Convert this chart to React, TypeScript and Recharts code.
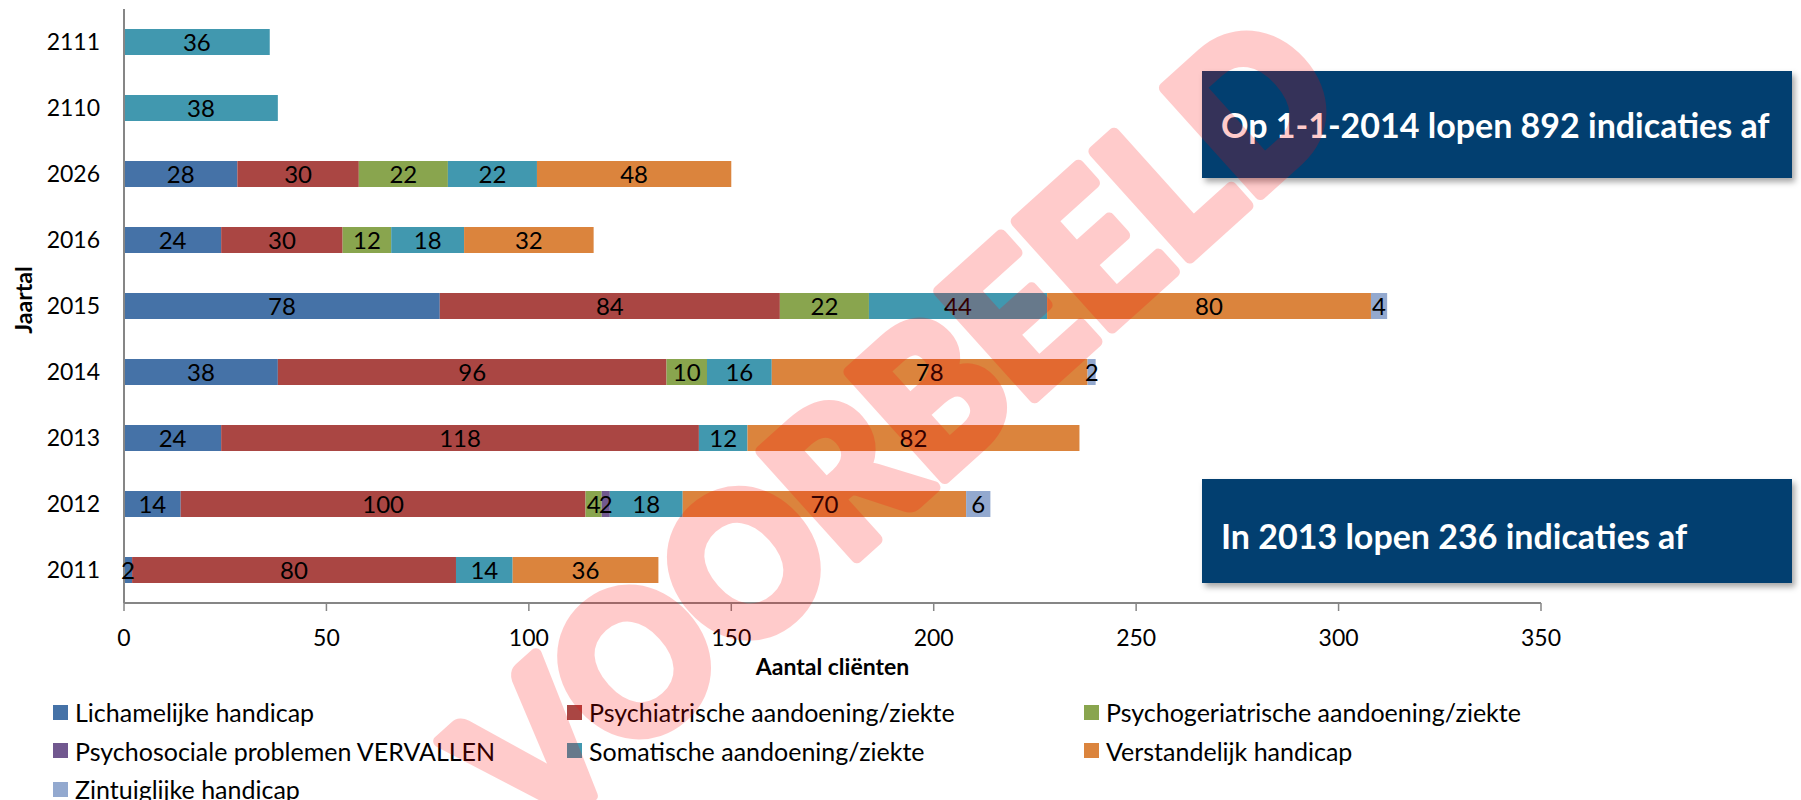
import React from 'react';
import { BarChart, Bar, XAxis, YAxis, LabelList, Label } from 'recharts';

// ---- data ----
const years = ['2111', '2110', '2026', '2016', '2015', '2014', '2013', '2012', '2011'];
const lichamelijke = [null, null, 28, 24, 78, 38, 24, 14, 2];
const psychiatrische = [null, null, 30, 30, 84, 96, 118, 100, 80];
const psychogeriatrische = [null, null, 22, 12, 22, 10, null, 4, null];
const psychosociale = [null, null, null, null, null, null, null, 2, null];
const somatische = [36, 38, 22, 18, 44, 16, 12, 18, 14];
const verstandelijk = [null, null, 48, 32, 80, 78, 82, 70, 36];
const zintuiglijke = [null, null, null, null, 4, 2, null, 6, null];
const xTicks = [0, 50, 100, 150, 200, 250, 300, 350];
const boundaryTicks = [0, 1, 2, 3, 4, 5, 6, 7, 8, 9];
const note1 = 'Op 1-1-2014 lopen 892 indicaties af';
const note2 = 'In 2013 lopen 236 indicaties af';
const watermark = 'VOORBEELD';

const series = [
  { key: 'lich', name: 'Lichamelijke handicap', values: lichamelijke, color: '#4572A7' },
  { key: 'psych', name: 'Psychiatrische aandoening/ziekte', values: psychiatrische, color: '#AA4643' },
  { key: 'pger', name: 'Psychogeriatrische aandoening/ziekte', values: psychogeriatrische, color: '#89A54E' },
  { key: 'psoc', name: 'Psychosociale problemen VERVALLEN', values: psychosociale, color: '#71588F' },
  { key: 'som', name: 'Somatische aandoening/ziekte', values: somatische, color: '#4198AF' },
  { key: 'verst', name: 'Verstandelijk handicap', values: verstandelijk, color: '#DB843D' },
  { key: 'zint', name: 'Zintuiglijke handicap', values: zintuiglijke, color: '#93A9CF' },
];

const data = years.map((y, i) => {
  const row: any = { year: y };
  series.forEach((s) => {
    row[s.key] = s.values[i];
  });
  return row;
});

const FONT = 'Lato, "Open Sans", sans-serif';
const AXIS = '#868686';

export default function App() {
  return (
    <div style={{ position: 'absolute', left: 0, top: 0, width: 1801, height: 800, background: '#fff', fontFamily: FONT, overflow: 'hidden' }}>
      <BarChart
        width={1801}
        height={800}
        data={data}
        layout="vertical"
        margin={{ top: 9, right: 260, bottom: 157, left: 0 }}
        barSize={26}
      >
        <XAxis
          type="number"
          domain={[0, 350]}
          ticks={xTicks}
          interval={0}
          height={40}
          tickSize={8}
          tickMargin={19}
          axisLine={{ stroke: AXIS, strokeWidth: 2 }}
          tickLine={{ stroke: AXIS, strokeWidth: 1.5 }}
          tick={{ fill: '#000', fontSize: 23, fontFamily: FONT }}
        >
          <Label
            content={(p: any) => {
              const vb = p.viewBox || { x: 124, width: 1417 };
              return (
                <text x={vb.x + vb.width / 2} y={666} textAnchor="middle" dominantBaseline="central" fontFamily={FONT} fontWeight={700} fontSize={23} fill="#000">
                  Aantal cliënten
                </text>
              );
            }}
          />
        </XAxis>
        <YAxis
          type="category"
          dataKey="year"
          width={124}
          tickSize={8}
          tickMargin={16}
          tickLine={false}
          axisLine={{ stroke: AXIS, strokeWidth: 2 }}
          tick={{ fill: '#000', fontSize: 23, fontFamily: FONT }}
        >
          <Label
            content={(p: any) => {
              const vb = p.viewBox || { y: 9, height: 594 };
              const cy = vb.y + vb.height / 2 - 6;
              return (
                <text x={23} y={cy} transform={`rotate(-90 23 ${cy})`} textAnchor="middle" dominantBaseline="central" fontFamily={FONT} fontWeight={700} fontSize={23} fill="#000">
                  Jaartal
                </text>
              );
            }}
          />
        </YAxis>
        <YAxis
          yAxisId="bounds"
          type="number"
          orientation="left"
          domain={[0, 9]}
          ticks={boundaryTicks}
          width={0}
          tickSize={8}
          axisLine={false}
          tick={false}
          tickLine={{ stroke: AXIS, strokeWidth: 1.5 }}
        />
        {series.map((s) => (
          <Bar key={s.key} dataKey={s.key} name={s.name} stackId="a" fill={s.color} isAnimationActive={false}>
            <LabelList dataKey={s.key} position="center" fill="#000" fontSize={24} fontFamily={FONT} />
          </Bar>
        ))}
      </BarChart>

      {/* legend */}
      <div style={{ position: 'absolute', left: 53, top: 693, width: 1600, display: 'grid', gridTemplateColumns: '514px 517px 540px', rowGap: 0 }}>
        {series.map((s) => (
          <div key={s.key} style={{ display: 'flex', alignItems: 'center', height: 38.5, fontSize: 25, color: '#000', whiteSpace: 'nowrap' }}>
            <span style={{ display: 'inline-block', width: 15, height: 15, background: s.color, marginRight: 7, flex: '0 0 auto' }} />
            <span>{s.name}</span>
          </div>
        ))}
      </div>

      {/* annotation boxes */}
      <div style={{ position: 'absolute', left: 1202, top: 71, width: 590, height: 107, background: '#023F70', boxShadow: '3px 4px 6px rgba(0,0,0,0.35)', display: 'flex', alignItems: 'center', paddingLeft: 19, boxSizing: 'border-box', color: '#fff', fontWeight: 700, fontSize: 34, whiteSpace: 'nowrap' }}>
        {note1}
      </div>
      <div style={{ position: 'absolute', left: 1202, top: 479, width: 590, height: 104, background: '#023F70', boxShadow: '3px 4px 6px rgba(0,0,0,0.35)', display: 'flex', alignItems: 'center', paddingLeft: 19, paddingTop: 8, boxSizing: 'border-box', color: '#fff', fontWeight: 700, fontSize: 34, whiteSpace: 'nowrap' }}>
        {note2}
      </div>

      {/* watermark */}
      <svg width={1801} height={800} style={{ position: 'absolute', left: 0, top: 0, pointerEvents: 'none' }}>
        <g opacity={0.2}>
          <g transform="translate(893 422) rotate(-42) scale(1 1.08)">
            <text
              x={0}
              y={0}
              textAnchor="middle"
              dominantBaseline="central"
              fontFamily={FONT}
              fontWeight={900}
              fontSize={182}
              fill="#FF0000"
              stroke="#FF0000"
              strokeWidth={11}
              strokeLinejoin="round"
            >
              {watermark}
            </text>
          </g>
        </g>
      </svg>
    </div>
  );
}
